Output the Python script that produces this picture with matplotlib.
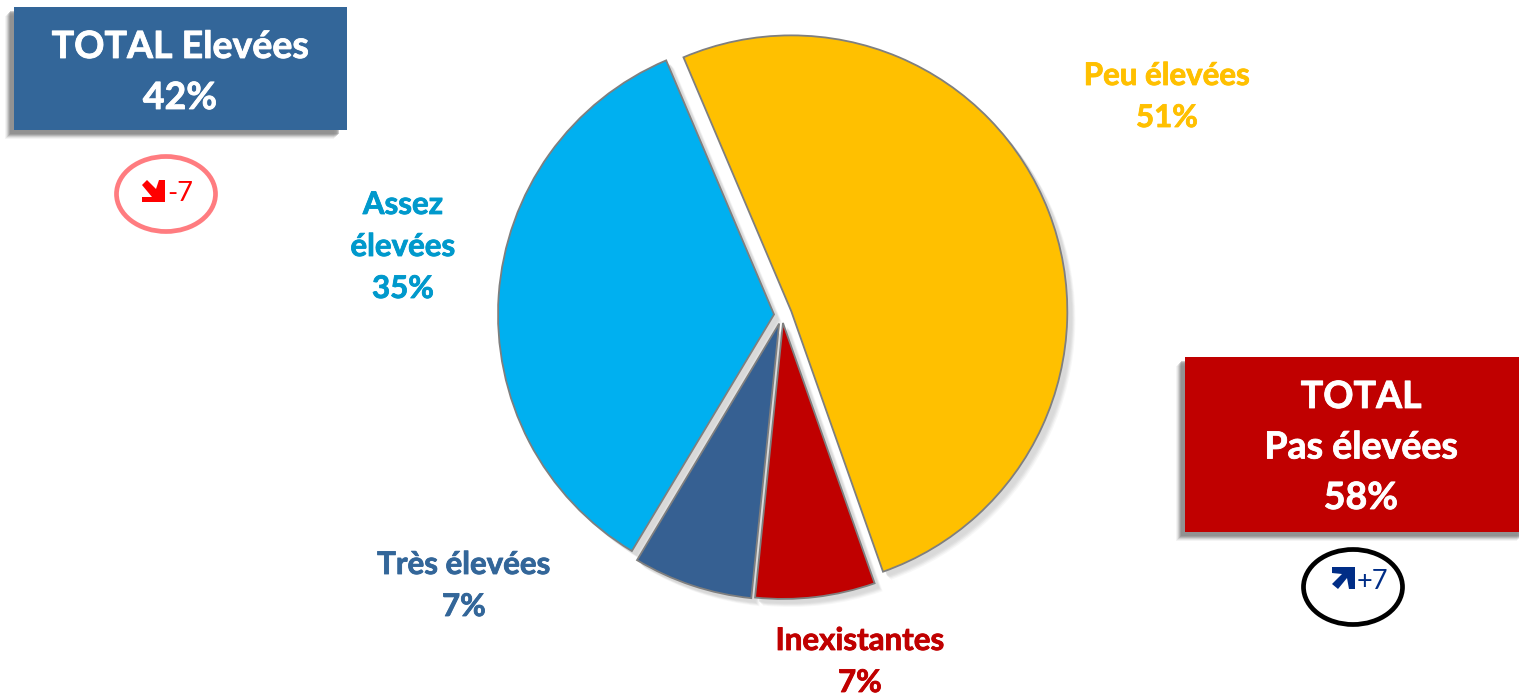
import matplotlib
matplotlib.use("Agg")
import matplotlib.pyplot as plt
import matplotlib.patheffects as pe
from matplotlib.patches import Ellipse, Polygon, Rectangle, Wedge

plt.rcParams['font.family'] = ['Lato', 'DejaVu Sans']

# clockwise from the yellow slice
categories = ["Peu élevées", "Inexistantes", "Très élevées", "Assez élevées"]
values = [51, 7, 7, 35]
colors = ["#FFC000", "#C00000", "#366092", "#00B0F0"]
explode = [10, 8, 9, 8]

label_lines = [["Peu élevées", "51%"], ["Inexistantes", "7%"], ["Très élevées", "7%"], ["Assez", "élevées", "35%"]]
label_colors = ["#FFC000", "#C00000", "#336699", "#0099CC"]
label_x = [1167, 860, 464, 403]
label_base = [85, 650, 574, 214]

total_lines = [["TOTAL Elevées", "42%"], ["TOTAL", "Pas élevées", "58%"]]
delta_labels = ["-7", "+7"]

W, H = 1519, 694


def Y(y):
    return H - y


def bold_fx(col):
    return [pe.withStroke(linewidth=0.6, foreground=col)]


fig = plt.figure(figsize=(W / 100, H / 100), dpi=100)
ax = fig.add_axes([0, 0, 1, 1])

wedges, _ = ax.pie(values, explode=explode, colors=colors, startangle=113, counterclock=False,
                   center=(782, Y(315)), radius=276,
                   wedgeprops=dict(edgecolor="#7F7F7F", linewidth=1.3, zorder=3))
ax.set_xlim(0, W)
ax.set_ylim(0, H)
ax.set_aspect("equal")
ax.axis("off")

# soft shadow behind the slices
for w in wedges:
    for off, a in [(8, 0.2), (7, 0.3), (6, 0.5), (5, 0.7), (4, 0.8)]:
        ax.add_patch(Wedge((w.center[0] + off, w.center[1] - off), w.r, w.theta1, w.theta2,
                           facecolor="#D9D9D9", edgecolor="none", alpha=a, zorder=2))

for lines, col, x, y0 in zip(label_lines, label_colors, label_x, label_base):
    for i, s in enumerate(lines):
        ax.text(x, Y(y0 + i * 42), s, color=col, fontsize=22.5, fontweight="bold",
                ha="center", va="baseline", zorder=6, path_effects=bold_fx(col))


def box(x0, y0, x1, y1, col):
    for off, a in [(9, 0.08), (8, 0.12), (7, 0.2), (6, 0.3), (5, 0.4), (4, 0.4)]:
        ax.add_patch(Rectangle((x0 - off, Y(y1 + off)), x1 - x0 - 4, y1 - y0,
                               facecolor="#7F7F7F", edgecolor="none", alpha=a, zorder=3))
    ax.add_patch(Rectangle((x0, Y(y1)), x1 - x0, y1 - y0, facecolor=col, edgecolor="none", zorder=4))


box(14, 7, 347, 130, "#336699")
box(1185, 357, 1530, 532, "#C00000")
for lines, x, y0, dy in [(total_lines[0], 180, 58, 51), (total_lines[1], 1361, 408, 50.5)]:
    for i, s in enumerate(lines):
        ax.text(x, Y(y0 + i * dy), s, color="white", fontsize=27, fontweight="bold",
                ha="center", va="baseline", zorder=5, path_effects=bold_fx("white"))

# evolution badges
ax.add_patch(Ellipse((166, Y(194)), 99, 75, facecolor="white", edgecolor="#FF7C80", linewidth=3.4, zorder=4))
ax.add_patch(Ellipse((1353, Y(587)), 99, 75, facecolor="white", edgecolor="black", linewidth=3.4, zorder=4))

red_arrow = [(142, 185), (147, 180), (156, 189), (159, 180), (165, 180), (165, 202), (142, 202), (142, 197), (152, 197)]
blue_arrow = [(1332, 567), (1355, 567), (1355, 589), (1349, 589), (1347, 578), (1338, 589), (1332, 584), (1342, 574), (1332, 573)]
ax.add_patch(Polygon([(x, Y(y)) for x, y in red_arrow], facecolor="#FF0000", edgecolor="none", zorder=5))
ax.add_patch(Polygon([(x, Y(y)) for x, y in blue_arrow], facecolor="#002D86", edgecolor="none", zorder=5))
ax.text(167, Y(201), delta_labels[0], color="#FF0000", fontsize=19.5, ha="left", va="baseline", zorder=6)
ax.text(1357, Y(589), delta_labels[1], color="#002D86", fontsize=19.5, ha="left", va="baseline", zorder=6)

fig.savefig("out.png", dpi=100)
